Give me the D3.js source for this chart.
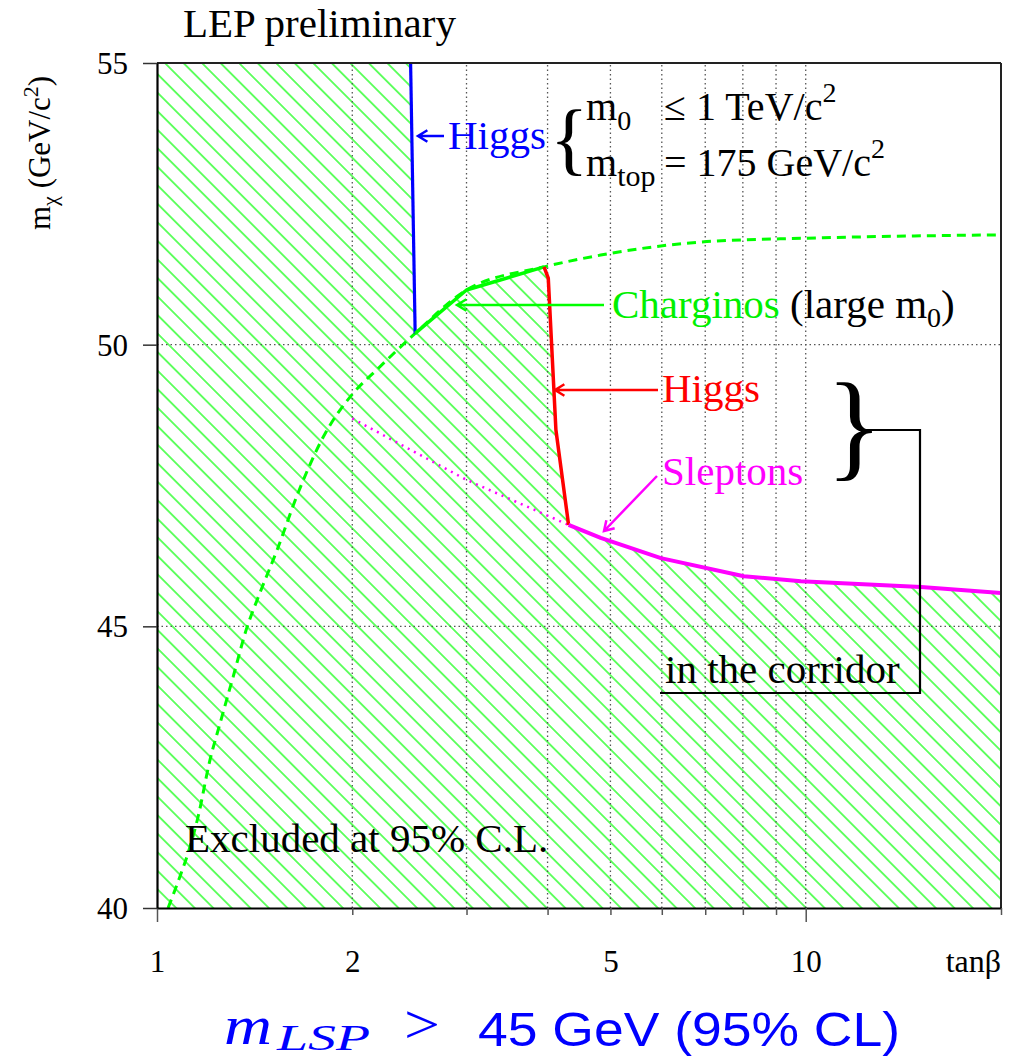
<!DOCTYPE html>
<html><head><meta charset="utf-8">
<script src="https://cdn.jsdelivr.net/npm/d3@7"></script>
<style>
body{margin:0;background:#fff}
svg text{font-family:"Liberation Serif","Times New Roman",serif;fill:#000}
</style>
</head><body>
<svg id="chart" width="1017" height="1060"></svg>
<script>
// Axis ticks and grid
const tanbTicks = [1, 2, 3, 4, 5, 6, 7, 8, 9, 10, 20];
const tanbLabels = [1, 2, 5, 10];
const tanbMajor = [1, 10];
const tanbGrid = [2, 3, 4, 5, 6, 7, 8, 9, 10];
const mchiTicks = [40, 45, 50, 55];
const mchiGrid = [45, 50];

// Exclusion boundaries, points are [tanβ, mχ in GeV/c²]
const higgsLowMass = [[2.46, 55], [2.50, 50.2]];
const charginoLimit = [[2.50, 50.2], [3.0, 50.97], [3.95, 51.38]];
const higgsCorridor = [[3.95, 51.38], [4.01, 51.18], [4.12, 48.49], [4.31, 46.80]];
const sleptonLimit = [[4.31, 46.80], [4.83, 46.57], [5.98, 46.21], [8.03, 45.89], [9.83, 45.80], [15.06, 45.70], [20, 45.59]];
const sleptonAlone = [[2.0, 48.69], [3.0, 47.60], [4.31, 46.80]];
const charginoLargeM0 = [[1.04, 40], [1.085, 40.56], [1.117, 40.98], [1.157, 41.62], [1.207, 42.63],
  [1.251, 43.28], [1.31, 44.10], [1.377, 44.99], [1.427, 45.47], [1.532, 46.36], [1.645, 47.33],
  [1.804, 48.36], [2.007, 49.14], [2.18, 49.55], [2.50, 50.2], [3.0, 50.97], [3.95, 51.38],
  [4.83, 51.59], [7.04, 51.83], [10.04, 51.89], [20, 51.95]];

const svg = d3.select("#chart");
const x = d3.scaleLog().domain([1, 20]).range([157, 1001]);
const y = d3.scaleLinear().domain([40, 55]).range([908, 63]);
const line = d3.line().x(d => x(d[0])).y(d => y(d[1]));
const smooth = d3.line().x(d => x(d[0])).y(d => y(d[1])).curve(d3.curveMonotoneX);

// diagonal hatching for the excluded area
const defs = svg.append("defs");
const pat = defs.append("pattern").attr("id", "hatch")
  .attr("patternUnits", "userSpaceOnUse").attr("width", 13.1).attr("height", 13.1)
  .attr("patternTransform", "rotate(45)");
pat.append("line").attr("x1", -1).attr("x2", 14.1).attr("y1", 6.55).attr("y2", 6.55)
  .attr("stroke", "#00ff00").attr("stroke-width", 1.2);

const excluded = [[1, 55], ...higgsLowMass, ...charginoLimit.slice(1),
  ...higgsCorridor.slice(1), ...sleptonLimit.slice(1), [20, 40], [1, 40]];
svg.append("path").attr("d", line(excluded) + "Z").attr("fill", "url(#hatch)");

// dotted grid
const grid = svg.append("g").attr("stroke", "#555").attr("stroke-width", 1.3).attr("stroke-dasharray", "1.5,3");
grid.selectAll("line.v").data(tanbGrid).join("line")
  .attr("x1", d => x(d)).attr("x2", d => x(d)).attr("y1", y(40)).attr("y2", y(55));
grid.selectAll("line.h").data(mchiGrid).join("line")
  .attr("x1", x(1)).attr("x2", x(20)).attr("y1", d => y(d)).attr("y2", d => y(d));

// limit curves
svg.append("path").attr("d", smooth(charginoLargeM0)).attr("fill", "none")
  .attr("stroke", "#00ff00").attr("stroke-width", 3).attr("stroke-dasharray", "9,6");
svg.append("path").attr("d", line(sleptonAlone)).attr("fill", "none")
  .attr("stroke", "#ff00ff").attr("stroke-width", 2.5).attr("stroke-dasharray", "2,5");
svg.append("path").attr("d", line(higgsLowMass)).attr("fill", "none")
  .attr("stroke", "#0000ff").attr("stroke-width", 3.2);
svg.append("path").attr("d", line(charginoLimit)).attr("fill", "none")
  .attr("stroke", "#00ff00").attr("stroke-width", 3.5).attr("stroke-linejoin", "round");
svg.append("path").attr("d", line(higgsCorridor)).attr("fill", "none")
  .attr("stroke", "#ff0000").attr("stroke-width", 3.5).attr("stroke-linejoin", "round");
svg.append("path").attr("d", line(sleptonLimit)).attr("fill", "none")
  .attr("stroke", "#ff00ff").attr("stroke-width", 4).attr("stroke-linejoin", "round");

// frame
svg.append("line").attr("x1", x(1)).attr("x2", x(20)).attr("y1", y(55)).attr("y2", y(55))
  .attr("stroke", "#222").attr("stroke-width", 2);
svg.append("line").attr("x1", x(20)).attr("x2", x(20)).attr("y1", y(55)).attr("y2", y(40))
  .attr("stroke", "#222").attr("stroke-width", 2);

// axes
const xAxis = d3.axisBottom(x).tickValues(tanbTicks).tickSizeInner(7).tickSizeOuter(0)
  .tickFormat(d => tanbLabels.includes(d) ? String(d) : "");
const gx = svg.append("g").attr("transform", `translate(0,${y(40)})`).call(xAxis);
gx.select(".domain").attr("stroke", "#000").attr("stroke-width", 2);
gx.selectAll(".tick line").attr("stroke", "#555").attr("stroke-width", 1.5)
  .attr("y2", d => tanbMajor.includes(d) ? 14 : 7);
gx.selectAll(".tick text").attr("font-family", "Liberation Serif").attr("font-size", 31)
  .attr("fill", "#000").attr("y", 64).attr("dy", 0);

const yAxis = d3.axisLeft(y).tickValues(mchiTicks).tickSizeInner(14).tickSizeOuter(0).tickPadding(15);
const gy = svg.append("g").attr("transform", `translate(${x(1)},0)`).call(yAxis);
gy.select(".domain").attr("stroke", "#000").attr("stroke-width", 2.2);
gy.selectAll(".tick line").attr("stroke", "#333").attr("stroke-width", 1.5);
gy.selectAll(".tick text").attr("font-family", "Liberation Serif").attr("font-size", 31)
  .attr("fill", "#000").attr("dy", "0.34em");

// axis titles
svg.append("text").attr("x", 1001).attr("y", 972).attr("text-anchor", "end")
  .attr("font-size", 32).text("tanβ");
const yt = svg.append("text").attr("transform", "translate(50,230) rotate(-90)").attr("font-size", 31);
yt.append("tspan").text("m");
yt.append("tspan").attr("font-size", 22).attr("dy", 7).text("χ");
yt.append("tspan").attr("dy", -7).text(" (GeV/c");
yt.append("tspan").attr("font-size", 22).attr("dy", -12).text("2");
yt.append("tspan").attr("dy", 12).text(")");

svg.append("text").attr("x", 183).attr("y", 37).attr("font-size", 41).text("LEP preliminary");

// annotation helper: straight arrow with an open head at the tip
function arrow(x0, y0, x1, y1, color) {
  const a = Math.atan2(y1 - y0, x1 - x0), L = 11, w = 0.55;
  const p = d3.path();
  p.moveTo(x0, y0); p.lineTo(x1, y1);
  p.moveTo(x1 - L * Math.cos(a - w), y1 - L * Math.sin(a - w));
  p.lineTo(x1, y1);
  p.lineTo(x1 - L * Math.cos(a + w), y1 - L * Math.sin(a + w));
  svg.append("path").attr("d", p.toString()).attr("fill", "none")
    .attr("stroke", color).attr("stroke-width", 2.5);
}

// Higgs (low mass) label and conditions
arrow(444, 136, 418, 136, "#0000ff");
svg.append("text").attr("x", 448).attr("y", 149).attr("font-size", 41)
  .style("fill", "#0000ff").text("Higgs");
svg.append("text").attr("x", 550).attr("y", 165).attr("font-size", 80).text("{");
const c1 = svg.append("text").attr("x", 586).attr("y", 120).attr("font-size", 40);
c1.append("tspan").text("m");
c1.append("tspan").attr("font-size", 28).attr("dy", 10).text("0");
c1.append("tspan").attr("x", 664).attr("dy", -10).text("≤ 1 TeV/c");
c1.append("tspan").attr("font-size", 28).attr("dy", -18).text("2");
const c2 = svg.append("text").attr("x", 586).attr("y", 176).attr("font-size", 40);
c2.append("tspan").text("m");
c2.append("tspan").attr("font-size", 30).attr("dy", 10).text("top");
c2.append("tspan").attr("x", 664).attr("dy", -10).text("= 175 GeV/c");
c2.append("tspan").attr("font-size", 28).attr("dy", -18).text("2");

// Charginos
arrow(604, 305, 457, 305, "#00ff00");
const ch = svg.append("text").attr("x", 612).attr("y", 318).attr("font-size", 41);
ch.append("tspan").style("fill", "#00f000").text("Charginos");
ch.append("tspan").text(" (large m");
ch.append("tspan").attr("font-size", 28).attr("dy", 9).text("0");
ch.append("tspan").attr("dy", -9).text(")");

// Higgs in the corridor
arrow(658, 390, 555, 390, "#ff0000");
svg.append("text").attr("x", 662).attr("y", 402).attr("font-size", 41).style("fill", "#ff0000").text("Higgs");

// Sleptons
arrow(657, 476, 604, 531, "#ff00ff");
svg.append("text").attr("x", 662).attr("y", 485).attr("font-size", 41).style("fill", "#ff00ff").text("Sleptons");

// brace linking the corridor limits
svg.append("text").attr("x", 826).attr("y", 465).attr("font-size", 118).text("}");
svg.append("path").attr("d", "M860,430H920V693H660").attr("fill", "none")
  .attr("stroke", "#000").attr("stroke-width", 2.2);
svg.append("text").attr("x", 665).attr("y", 683).attr("font-size", 41).text("in the corridor");

svg.append("text").attr("x", 185).attr("y", 852).attr("font-size", 41).text("Excluded at 95% C.L.");

// summary line
svg.append("text").attr("x", 224).attr("y", 1044).attr("font-size", 54).attr("font-style", "italic")
  .attr("textLength", 48).attr("lengthAdjust", "spacingAndGlyphs").style("fill", "#0000ff").text("m");
svg.append("text").attr("x", 277).attr("y", 1050).attr("font-size", 36).attr("font-style", "italic")
  .attr("textLength", 93).attr("lengthAdjust", "spacingAndGlyphs").style("fill", "#0000ff").text("LSP");
svg.append("text").attr("x", 404).attr("y", 1043).attr("font-size", 54)
  .attr("textLength", 36).attr("lengthAdjust", "spacingAndGlyphs").style("fill", "#0000ff").text(">");
svg.append("text").attr("x", 478).attr("y", 1046).attr("font-size", 48)
  .style("font-family", "'Liberation Sans',Arial,sans-serif")
  .attr("textLength", 422).attr("lengthAdjust", "spacingAndGlyphs").style("fill", "#0000ff")
  .text("45 GeV (95% CL)");
</script>
</body></html>
